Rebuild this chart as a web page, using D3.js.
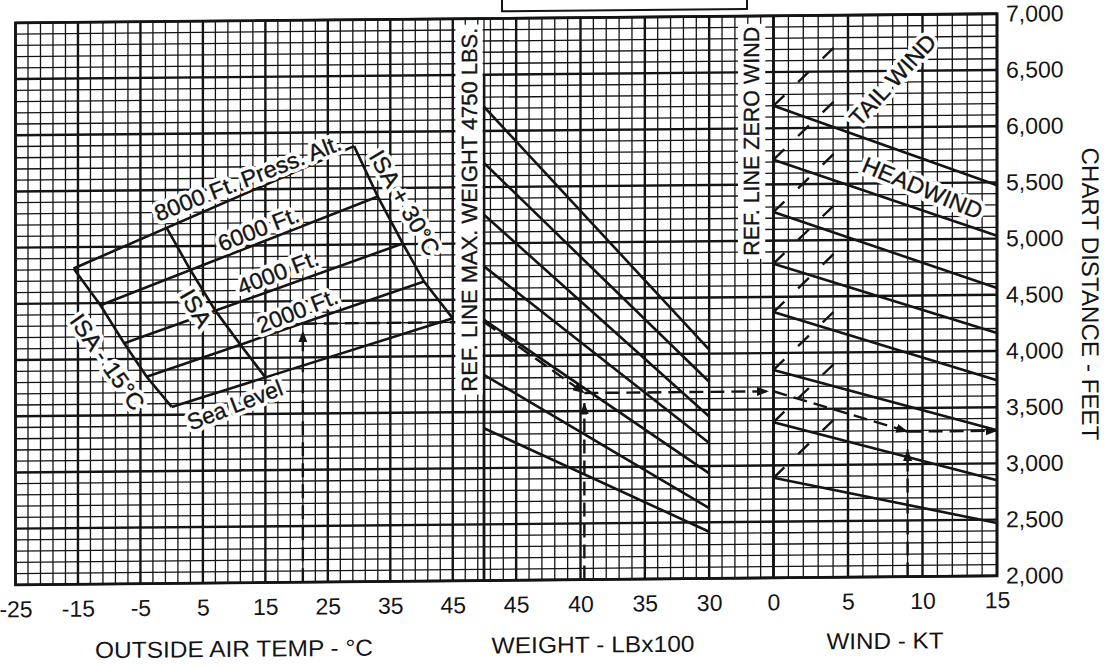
<!DOCTYPE html>
<html>
<head>
<meta charset="utf-8">
<script src="https://cdn.jsdelivr.net/npm/d3@7"></script>
<style>
  html, body { margin: 0; padding: 0; background: #fff; }
  svg { display: block; font-family: "Liberation Sans", Arial, Helvetica, sans-serif; }
</style>
</head>
<body>
<svg id="chart" width="1110" height="666"></svg>
<script>
// ---------------- data ----------------
// Pressure-altitude lines, bounded by the ISA-15°C and ISA+30°C limits
const altitudeNames   = ["Sea Level", "2000 Ft.", "4000 Ft.", "6000 Ft.", "8000 Ft. Press. Alt."];
const coldTemps       = [0, -4, -7.6, -11.4, -15.7];      // ISA - 15°C (°C)
const coldDistances   = [3570, 3840, 4140, 4480, 4810];   // ft
const hotTemps        = [45, 40.4, 37, 33, 29.2];         // ISA + 30°C (°C)
const hotDistances    = [4335, 4665, 5005, 5425, 5875];   // ft
const isaTemps        = [15, 11, 7, 3, -0.8];             // standard day (°C)

// Weight guide lines: distance at 4750 lb (reference) and at 3000 lb
const weightGuideStart = [6215, 5715, 5255, 4795, 4320, 3830, 3355];
const weightGuideEnd   = [4035, 3750, 3440, 3205, 2935, 2625, 2415];

// Wind guide lines: distance at zero wind, at 15 kt headwind, at 4.5 kt tailwind
const headwindStart = [6200, 5720, 5255, 4795, 4365, 3850, 3385, 2890];
const headwindEnd   = [5475, 5025, 4560, 4160, 3740, 3295, 2850, 2470];
const tailwindEnd   = [6770, 6290, 5825, 5365, 4935, 4420, 3955, 3460];

// Worked example: 21°C at 2000 ft, 3970 lb, 9 kt headwind
const exampleTemp = 21;
const exampleWeight = 39.7;
const exampleWind = 9;
const exampleDistances = [4300, 3660, 3290];

// Axis ticks
const tempTicks   = [-25, -15, -5, 5, 15, 25, 35, 45];
const weightTicks = [45, 40, 35, 30];
const windTicks   = [0, 5, 10, 15];
const distTicks   = [2000, 2500, 3000, 3500, 4000, 4500, 5000, 5500, 6000, 6500, 7000];

// ---------------- scales ----------------
const INK = "#141414";
const y       = d3.scaleLinear().domain([2000, 7000]).range([585, 23]);
const xTemp   = d3.scaleLinear().domain([-25, 50]).range([15.5, 484]);
const xWeight = d3.scaleLinear().domain([47.5, 25]).range([484, 773.5]);
const xWind   = d3.scaleLinear().domain([0, 15]).range([773.5, 997]);

const svg = d3.select("#chart");
const defs = svg.append("defs");
defs.append("marker")
  .attr("id", "arrow").attr("viewBox", "0 0 10 10")
  .attr("refX", 9.5).attr("refY", 5)
  .attr("markerWidth", 12).attr("markerHeight", 12)
  .attr("markerUnits", "userSpaceOnUse").attr("orient", "auto")
  .append("path").attr("d", "M0,1.2 L10,5 L0,8.8 Z").attr("fill", INK);

// the printed sheet sits slightly sheared
const root = svg.append("g").attr("transform", "skewY(-0.53)");

// title box above the grid
root.append("rect")
  .attr("x", 502).attr("y", -40).attr("width", 245).attr("height", 56)
  .attr("fill", "#fff").attr("stroke", INK).attr("stroke-width", 2);

// ---------------- grid ----------------
const verticals = [];
d3.range(-25, 50, 2).forEach(t => verticals.push({ x: xTemp(t), major: (t + 25) % 10 === 0 }));
d3.range(47, 25, -1).forEach(w => verticals.push({ x: xWeight(w), major: w % 5 === 0 }));
d3.range(0, 16, 1).forEach(k => verticals.push({ x: xWind(k), major: k % 5 === 0 }));
verticals.push({ x: xWeight(47.5), major: false });

const horizontals = d3.range(2000, 7001, 100).map(v => ({ v, major: v % 500 === 0 }));

const grid = root.append("g").attr("stroke", INK);
grid.selectAll("line.h").data(horizontals).join("line")
  .attr("class", "h")
  .attr("x1", xTemp(-25)).attr("x2", xWind(15))
  .attr("y1", d => y(d.v)).attr("y2", d => y(d.v))
  .attr("stroke-width", d => d.major ? 2.4 : 1.3);
grid.selectAll("line.v").data(verticals).join("line")
  .attr("class", "v")
  .attr("x1", d => d.x).attr("x2", d => d.x)
  .attr("y1", y(2000)).attr("y2", y(7000))
  .attr("stroke-width", d => d.major ? 2.4 : 1.3);

// reference lines
root.append("line")
  .attr("x1", xWeight(47.5)).attr("x2", xWeight(47.5))
  .attr("y1", y(2000)).attr("y2", y(6500))
  .attr("stroke", INK).attr("stroke-width", 2.8);
root.append("line")
  .attr("x1", xWind(0)).attr("x2", xWind(0))
  .attr("y1", y(2000)).attr("y2", y(7000))
  .attr("stroke", INK).attr("stroke-width", 2.8);

// frame
root.append("rect")
  .attr("x", xTemp(-25)).attr("y", y(7000))
  .attr("width", xWind(15) - xTemp(-25)).attr("height", y(2000) - y(7000))
  .attr("fill", "none").attr("stroke", INK).attr("stroke-width", 2.8);

// ---------------- temperature / altitude panel ----------------
const tLine = d3.line().x(d => xTemp(d[0])).y(d => y(d[1]));
const curves = root.append("g").attr("fill", "none").attr("stroke", INK).attr("stroke-width", 2.6);

altitudeNames.forEach((_, i) => {
  curves.append("path").attr("d", tLine([[coldTemps[i], coldDistances[i]], [hotTemps[i], hotDistances[i]]]));
});
curves.append("path").attr("d", tLine(coldTemps.map((t, i) => [t, coldDistances[i]])));
curves.append("path").attr("d", tLine(hotTemps.map((t, i) => [t, hotDistances[i]])));
// standard-day line, located on each altitude line
const isaPoints = isaTemps.map((t, i) => {
  const f = (t - coldTemps[i]) / (hotTemps[i] - coldTemps[i]);
  return [t, coldDistances[i] + f * (hotDistances[i] - coldDistances[i])];
});
curves.append("path").attr("d", tLine(isaPoints));

// ---------------- weight panel ----------------
const wLine = d3.line().x(d => xWeight(d[0])).y(d => y(d[1]));
const wg = root.append("g").attr("fill", "none").attr("stroke", INK).attr("stroke-width", 2.6);
weightGuideStart.forEach((s, i) => {
  wg.append("path").attr("d", wLine([[47.5, s], [30, weightGuideEnd[i]]]));
});

// ---------------- wind panel ----------------
const kLine = d3.line().x(d => xWind(d[0])).y(d => y(d[1]));
const kg = root.append("g").attr("fill", "none").attr("stroke", INK).attr("stroke-width", 2.6);
headwindStart.forEach((s, i) => {
  kg.append("path").attr("d", kLine([[0, s], [15, headwindEnd[i]]]));
  kg.append("path").attr("d", kLine([[0, s], [4.5, tailwindEnd[i]]]))
    .attr("stroke-dasharray", "15 19").attr("stroke-width", 2.4);
});

// ---------------- worked example ----------------
const ex = root.append("g").attr("fill", "none").attr("stroke", INK)
  .attr("stroke-width", 2.4).attr("stroke-dasharray", "14 7");
ex.append("path").attr("d", tLine([[exampleTemp, 2000], [exampleTemp, exampleDistances[0] - 65]]))
  .attr("marker-end", "url(#arrow)");
ex.append("path").attr("d", tLine([[exampleTemp, exampleDistances[0]], [50, exampleDistances[0]]]));
ex.append("path").attr("d", wLine([[47.5, exampleDistances[0]], [exampleWeight, exampleDistances[1]]]))
  .attr("marker-end", "url(#arrow)");
ex.append("path").attr("d", wLine([[exampleWeight, 2000], [exampleWeight, exampleDistances[1] - 90]]))
  .attr("marker-end", "url(#arrow)");
ex.append("path").attr("d", wLine([[exampleWeight, exampleDistances[1]], [25.4, exampleDistances[1]]]))
  .attr("marker-end", "url(#arrow)");
ex.append("path").attr("d", kLine([[0, exampleDistances[1]], [exampleWind, exampleDistances[2]]]))
  .attr("marker-end", "url(#arrow)");
ex.append("path").attr("d", kLine([[exampleWind, exampleDistances[2]], [15, exampleDistances[2]]]))
  .attr("marker-end", "url(#arrow)");
ex.append("path").attr("d", kLine([[exampleWind, 2000], [exampleWind, exampleDistances[2] - 160]]))
  .attr("marker-end", "url(#arrow)");

// ---------------- in-chart labels ----------------
function label(x, yy, angle, text, opt) {
  const g = root.append("g").attr("transform", `translate(${x},${yy}) rotate(${angle})`);
  if (opt.box) {
    g.append("rect")
      .attr("x", -opt.length / 2 - 3).attr("y", -opt.size * 0.62)
      .attr("width", opt.length + 6).attr("height", opt.size * 1.24)
      .attr("fill", "#fff");
  }
  const layers = opt.halo ? ["halo", "ink"] : ["ink"];
  layers.forEach(kind => {
    const t = g.append("text")
      .attr("text-anchor", "middle").attr("dominant-baseline", "central")
      .attr("font-size", opt.size).text(text);
    if (opt.length) t.attr("textLength", opt.length).attr("lengthAdjust", "spacingAndGlyphs");
    if (kind === "halo") {
      t.attr("fill", "#fff").attr("stroke", "#fff").attr("stroke-width", 8).attr("stroke-linejoin", "round");
    } else {
      t.attr("fill", INK).attr("stroke", INK).attr("stroke-width", 0.35);
    }
  });
}

label(xTemp(12.2), y(5600), -21, altitudeNames[4], { size: 23, length: 198, halo: true });
label(xTemp(13.9), y(5146), -21, altitudeNames[3], { size: 23, length: 85, halo: true });
label(xTemp(17.0), y(4757), -21, altitudeNames[2], { size: 23, length: 85, halo: true });
label(xTemp(20.1), y(4415), -21, altitudeNames[1], { size: 23, length: 85, halo: true });
label(xTemp(10.1), y(3582), -21, altitudeNames[0], { size: 23, length: 100, halo: true });
label(xTemp(3.9),  y(4446), 60, "ISA", { size: 23, length: 40, halo: true });
label(xTemp(-10.3), y(3975), 55, "ISA - 15°C", { size: 23, length: 112, halo: true });
label(xTemp(37.3), y(5366), 60, "ISA + 30°C", { size: 23, length: 118, halo: true });

label(xTemp(47.6), y(5300), -90, "REF. LINE MAX. WEIGHT 4750 LBS.", { size: 22, length: 364, box: true });
label(xWeight(26.7), y(5885), -90, "REF. LINE ZERO WIND", { size: 22, length: 229, box: true });
label(xWind(8.0), y(6419), -47, "TAIL WIND", { size: 23, length: 115, halo: true });
label(xWind(10.0), y(5456), 23, "HEADWIND", { size: 23, length: 128, halo: true });

// ---------------- axes ----------------
function styleAxis(sel, size) {
  sel.select(".domain").remove();
  sel.selectAll("text").attr("font-size", size)
    .attr("font-family", "\"Liberation Sans\", Arial, Helvetica, sans-serif")
    .attr("fill", INK);
}
root.append("g").attr("transform", `translate(0,${y(2000)})`)
  .call(d3.axisBottom(xTemp).tickValues(tempTicks).tickSize(0).tickPadding(16).tickFormat(d => String(d)))
  .call(styleAxis, 23);
root.append("g").attr("transform", `translate(0,${y(2000)})`)
  .call(d3.axisBottom(xWeight).tickValues(weightTicks).tickSize(0).tickPadding(16).tickFormat(d => String(d)))
  .call(styleAxis, 23);
root.append("g").attr("transform", `translate(0,${y(2000)})`)
  .call(d3.axisBottom(xWind).tickValues(windTicks).tickSize(0).tickPadding(16).tickFormat(d => String(d)))
  .call(styleAxis, 23);
root.append("g").attr("transform", `translate(${xWind(15)},0)`)
  .call(d3.axisRight(y).tickValues(distTicks).tickSize(0).tickPadding(9).tickFormat(d3.format(",")))
  .call(styleAxis, 23);

// axis titles
const titles = root.append("g").attr("font-size", 23).attr("fill", INK)
  .attr("text-anchor", "middle").attr("dominant-baseline", "central");
titles.append("text").attr("x", 234).attr("y", 651).attr("textLength", 278)
  .attr("lengthAdjust", "spacingAndGlyphs").text("OUTSIDE AIR TEMP - °C");
titles.append("text").attr("x", 593).attr("y", 650).attr("textLength", 203)
  .attr("lengthAdjust", "spacingAndGlyphs").text("WEIGHT - LBx100");
titles.append("text").attr("x", 885).attr("y", 649).attr("textLength", 117)
  .attr("lengthAdjust", "spacingAndGlyphs").text("WIND - KT");
titles.append("text")
  .attr("transform", `translate(1090,${304}) rotate(90)`)
  .attr("font-size", 24).attr("textLength", 293).attr("lengthAdjust", "spacingAndGlyphs")
  .text("CHART DISTANCE - FEET");
</script>
</body>
</html>
